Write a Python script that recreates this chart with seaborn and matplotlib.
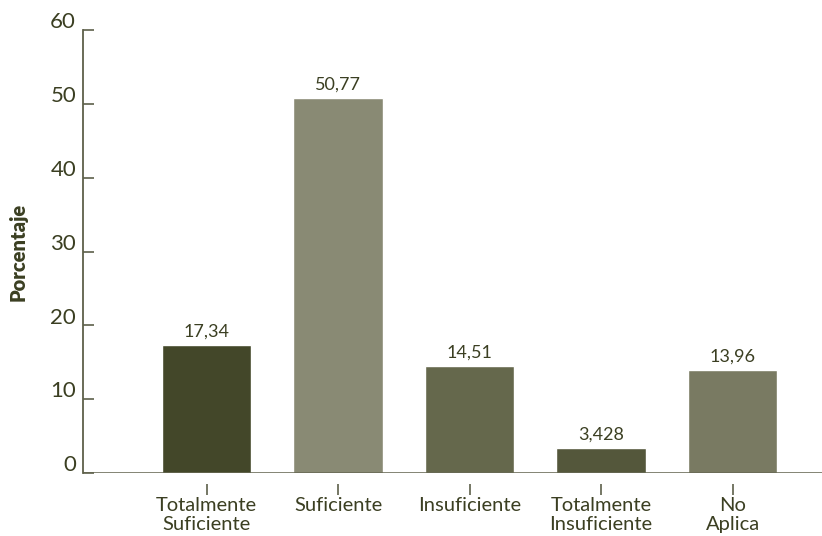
import matplotlib
matplotlib.use("Agg")
import matplotlib.pyplot as plt
import matplotlib.transforms as mtransforms
import seaborn as sns
import pandas as pd

categories = ["Totalmente\nSuficiente", "Suficiente", "Insuficiente",
              "Totalmente\nInsuficiente", "No\nAplica"]
values = [17.34, 50.77, 14.51, 3.428, 13.96]
value_labels = ["17,34", "50,77", "14,51", "3,428", "13,96"]
bar_colors = ["#434729", "#898a74", "#65684c", "#54573b", "#797a62"]
y_ticks = [0, 10, 20, 30, 40, 50, 60]

sns.set_theme(style="white")
plt.rcParams["font.family"] = ["Lato", "DejaVu Sans"]
text_color = "#3b3f22"
axis_color = "#5e604a"

df = pd.DataFrame({"cat": categories, "val": values})

fig = plt.figure(figsize=(8.22, 5.36), dpi=100)
ax = fig.add_axes([0.101, 0.1175, 0.899, 0.8265])

sns.barplot(data=df, x="cat", y="val", hue="cat", palette=bar_colors,
            legend=False, width=0.68, ax=ax, saturation=1)

for cont, lab in zip(ax.containers, value_labels):
    ax.bar_label(cont, labels=[lab], padding=4, fontsize=13, color=text_color)

ax.set_ylim(0, 60)
ax.set_xlim(-0.94, 4.68)
ax.set_yticks(y_ticks)
ax.set_yticklabels([str(t) for t in y_ticks])

for s in ["top", "right"]:
    ax.spines[s].set_visible(False)
ax.spines["left"].set_color(axis_color)
ax.spines["left"].set_linewidth(1.3)
ax.spines["bottom"].set_visible(False)
ax.spines["bottom"].set_position(("outward", 8))
ax.axhline(0, color=axis_color, linewidth=1.8, zorder=5)

ax.tick_params(axis="y", direction="in", length=8, width=1.2, color=axis_color,
               labelsize=16, labelcolor=text_color, pad=5, left=True)
ax.tick_params(axis="x", direction="out", length=8, width=1.2, color=axis_color,
               labelsize=14.5, labelcolor=text_color, pad=1, bottom=True)
for lab in ax.get_xticklabels():
    lab.set_linespacing(1.2)

offset = mtransforms.ScaledTranslation(0, 7 / 72, fig.dpi_scale_trans)
for lab in ax.get_yticklabels():
    lab.set_transform(lab.get_transform() + offset)

ax.set_xlabel("")
ax.set_ylabel("Porcentaje", fontsize=14.5, fontweight="heavy", color=text_color,
              labelpad=16)

fig.savefig("out.png", dpi=100)
